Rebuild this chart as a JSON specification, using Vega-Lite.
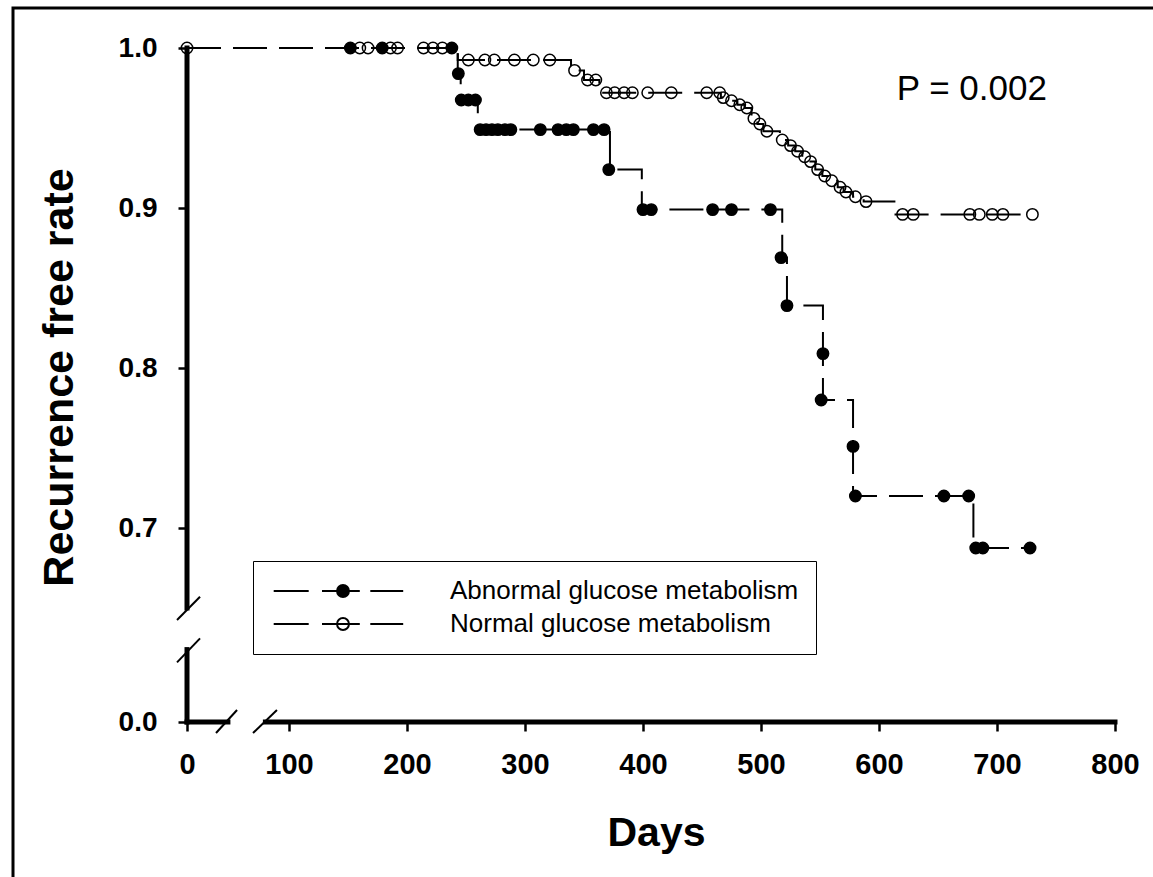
{
  "$schema": "https://vega.github.io/schema/vega-lite/v6.json",
  "width": 1146,
  "height": 875,
  "autosize": {"type": "none"},
  "padding": {"left": 13, "top": 8, "right": -6, "bottom": -6},
  "config": {
    "view": {"stroke": "black", "strokeWidth": 3},
    "font": "Liberation Sans",
    "axis": {
      "domain": false,
      "grid": false,
      "tickColor": "black",
      "tickWidth": 2.5,
      "tickSize": 9,
      "labelFont": "Liberation Sans",
      "labelFontWeight": "bold",
      "labelFontSize": 28,
      "labelColor": "black",
      "titleFont": "Liberation Sans",
      "titleFontWeight": "bold",
      "titleFontSize": 41,
      "titleColor": "black"
    }
  },
  "datasets": {
    "steps": [
      {"group": "Abnormal glucose metabolism", "day": 0, "rate": 1.0},
      {"group": "Abnormal glucose metabolism", "day": 243, "rate": 0.984},
      {"group": "Abnormal glucose metabolism", "day": 245.5, "rate": 0.9675},
      {"group": "Abnormal glucose metabolism", "day": 260, "rate": 0.949},
      {"group": "Abnormal glucose metabolism", "day": 372, "rate": 0.924},
      {"group": "Abnormal glucose metabolism", "day": 399, "rate": 0.899},
      {"group": "Abnormal glucose metabolism", "day": 518, "rate": 0.869},
      {"group": "Abnormal glucose metabolism", "day": 522, "rate": 0.839},
      {"group": "Abnormal glucose metabolism", "day": 552.5, "rate": 0.78},
      {"group": "Abnormal glucose metabolism", "day": 578, "rate": 0.72},
      {"group": "Abnormal glucose metabolism", "day": 680, "rate": 0.6875},
      {"group": "Abnormal glucose metabolism", "day": 728, "rate": 0.6875},
      {"group": "Normal glucose metabolism", "day": 0, "rate": 1.0},
      {"group": "Normal glucose metabolism", "day": 243, "rate": 0.9925},
      {"group": "Normal glucose metabolism", "day": 339, "rate": 0.986},
      {"group": "Normal glucose metabolism", "day": 350, "rate": 0.98},
      {"group": "Normal glucose metabolism", "day": 363, "rate": 0.972},
      {"group": "Normal glucose metabolism", "day": 466, "rate": 0.969},
      {"group": "Normal glucose metabolism", "day": 473, "rate": 0.967},
      {"group": "Normal glucose metabolism", "day": 480, "rate": 0.9645},
      {"group": "Normal glucose metabolism", "day": 486, "rate": 0.9625},
      {"group": "Normal glucose metabolism", "day": 492, "rate": 0.956},
      {"group": "Normal glucose metabolism", "day": 497, "rate": 0.9525},
      {"group": "Normal glucose metabolism", "day": 502, "rate": 0.948},
      {"group": "Normal glucose metabolism", "day": 516, "rate": 0.9425},
      {"group": "Normal glucose metabolism", "day": 523, "rate": 0.939},
      {"group": "Normal glucose metabolism", "day": 529, "rate": 0.9355},
      {"group": "Normal glucose metabolism", "day": 535, "rate": 0.932},
      {"group": "Normal glucose metabolism", "day": 540, "rate": 0.929},
      {"group": "Normal glucose metabolism", "day": 546, "rate": 0.924},
      {"group": "Normal glucose metabolism", "day": 552, "rate": 0.92},
      {"group": "Normal glucose metabolism", "day": 558, "rate": 0.917},
      {"group": "Normal glucose metabolism", "day": 565, "rate": 0.913},
      {"group": "Normal glucose metabolism", "day": 570, "rate": 0.91},
      {"group": "Normal glucose metabolism", "day": 578, "rate": 0.907},
      {"group": "Normal glucose metabolism", "day": 587, "rate": 0.904},
      {"group": "Normal glucose metabolism", "day": 614, "rate": 0.896},
      {"group": "Normal glucose metabolism", "day": 730, "rate": 0.896}
    ],
    "censor": [
      {"group": "Abnormal glucose metabolism", "day": 152, "rate": 1.0},
      {"group": "Abnormal glucose metabolism", "day": 179, "rate": 1.0},
      {"group": "Abnormal glucose metabolism", "day": 238, "rate": 1.0},
      {"group": "Abnormal glucose metabolism", "day": 243.5, "rate": 0.984},
      {"group": "Abnormal glucose metabolism", "day": 246, "rate": 0.9675},
      {"group": "Abnormal glucose metabolism", "day": 252, "rate": 0.9675},
      {"group": "Abnormal glucose metabolism", "day": 258, "rate": 0.9675},
      {"group": "Abnormal glucose metabolism", "day": 262, "rate": 0.949},
      {"group": "Abnormal glucose metabolism", "day": 267, "rate": 0.949},
      {"group": "Abnormal glucose metabolism", "day": 272, "rate": 0.949},
      {"group": "Abnormal glucose metabolism", "day": 277, "rate": 0.949},
      {"group": "Abnormal glucose metabolism", "day": 283, "rate": 0.949},
      {"group": "Abnormal glucose metabolism", "day": 288, "rate": 0.949},
      {"group": "Abnormal glucose metabolism", "day": 313, "rate": 0.949},
      {"group": "Abnormal glucose metabolism", "day": 328, "rate": 0.949},
      {"group": "Abnormal glucose metabolism", "day": 335, "rate": 0.949},
      {"group": "Abnormal glucose metabolism", "day": 341, "rate": 0.949},
      {"group": "Abnormal glucose metabolism", "day": 358, "rate": 0.949},
      {"group": "Abnormal glucose metabolism", "day": 367, "rate": 0.949},
      {"group": "Abnormal glucose metabolism", "day": 371, "rate": 0.924},
      {"group": "Abnormal glucose metabolism", "day": 400, "rate": 0.899},
      {"group": "Abnormal glucose metabolism", "day": 407, "rate": 0.899},
      {"group": "Abnormal glucose metabolism", "day": 459, "rate": 0.899},
      {"group": "Abnormal glucose metabolism", "day": 475, "rate": 0.899},
      {"group": "Abnormal glucose metabolism", "day": 508, "rate": 0.899},
      {"group": "Abnormal glucose metabolism", "day": 517, "rate": 0.869},
      {"group": "Abnormal glucose metabolism", "day": 522, "rate": 0.839},
      {"group": "Abnormal glucose metabolism", "day": 552.5, "rate": 0.809},
      {"group": "Abnormal glucose metabolism", "day": 551, "rate": 0.78},
      {"group": "Abnormal glucose metabolism", "day": 578, "rate": 0.751},
      {"group": "Abnormal glucose metabolism", "day": 580, "rate": 0.72},
      {"group": "Abnormal glucose metabolism", "day": 655, "rate": 0.72},
      {"group": "Abnormal glucose metabolism", "day": 676, "rate": 0.72},
      {"group": "Abnormal glucose metabolism", "day": 682, "rate": 0.6875},
      {"group": "Abnormal glucose metabolism", "day": 688, "rate": 0.6875},
      {"group": "Abnormal glucose metabolism", "day": 728, "rate": 0.6875},
      {"group": "Normal glucose metabolism", "day": 0, "rate": 1.0},
      {"group": "Normal glucose metabolism", "day": 160, "rate": 1.0},
      {"group": "Normal glucose metabolism", "day": 167, "rate": 1.0},
      {"group": "Normal glucose metabolism", "day": 186, "rate": 1.0},
      {"group": "Normal glucose metabolism", "day": 192, "rate": 1.0},
      {"group": "Normal glucose metabolism", "day": 214, "rate": 1.0},
      {"group": "Normal glucose metabolism", "day": 222, "rate": 1.0},
      {"group": "Normal glucose metabolism", "day": 230, "rate": 1.0},
      {"group": "Normal glucose metabolism", "day": 252, "rate": 0.9925},
      {"group": "Normal glucose metabolism", "day": 266, "rate": 0.9925},
      {"group": "Normal glucose metabolism", "day": 274, "rate": 0.9925},
      {"group": "Normal glucose metabolism", "day": 291, "rate": 0.9925},
      {"group": "Normal glucose metabolism", "day": 307, "rate": 0.9925},
      {"group": "Normal glucose metabolism", "day": 321, "rate": 0.9925},
      {"group": "Normal glucose metabolism", "day": 342, "rate": 0.986},
      {"group": "Normal glucose metabolism", "day": 353, "rate": 0.98},
      {"group": "Normal glucose metabolism", "day": 360, "rate": 0.98},
      {"group": "Normal glucose metabolism", "day": 369, "rate": 0.972},
      {"group": "Normal glucose metabolism", "day": 376, "rate": 0.972},
      {"group": "Normal glucose metabolism", "day": 384, "rate": 0.972},
      {"group": "Normal glucose metabolism", "day": 391, "rate": 0.972},
      {"group": "Normal glucose metabolism", "day": 404, "rate": 0.972},
      {"group": "Normal glucose metabolism", "day": 424, "rate": 0.972},
      {"group": "Normal glucose metabolism", "day": 454, "rate": 0.972},
      {"group": "Normal glucose metabolism", "day": 465, "rate": 0.972},
      {"group": "Normal glucose metabolism", "day": 468, "rate": 0.969},
      {"group": "Normal glucose metabolism", "day": 475, "rate": 0.967},
      {"group": "Normal glucose metabolism", "day": 482, "rate": 0.9645},
      {"group": "Normal glucose metabolism", "day": 488, "rate": 0.9625},
      {"group": "Normal glucose metabolism", "day": 494, "rate": 0.956},
      {"group": "Normal glucose metabolism", "day": 499, "rate": 0.9525},
      {"group": "Normal glucose metabolism", "day": 505, "rate": 0.948},
      {"group": "Normal glucose metabolism", "day": 518, "rate": 0.9425},
      {"group": "Normal glucose metabolism", "day": 525, "rate": 0.939},
      {"group": "Normal glucose metabolism", "day": 531, "rate": 0.9355},
      {"group": "Normal glucose metabolism", "day": 537, "rate": 0.932},
      {"group": "Normal glucose metabolism", "day": 542, "rate": 0.929},
      {"group": "Normal glucose metabolism", "day": 548, "rate": 0.924},
      {"group": "Normal glucose metabolism", "day": 554, "rate": 0.92},
      {"group": "Normal glucose metabolism", "day": 560, "rate": 0.917},
      {"group": "Normal glucose metabolism", "day": 567, "rate": 0.913},
      {"group": "Normal glucose metabolism", "day": 572, "rate": 0.91},
      {"group": "Normal glucose metabolism", "day": 580, "rate": 0.907},
      {"group": "Normal glucose metabolism", "day": 589, "rate": 0.904},
      {"group": "Normal glucose metabolism", "day": 620, "rate": 0.896},
      {"group": "Normal glucose metabolism", "day": 629, "rate": 0.896},
      {"group": "Normal glucose metabolism", "day": 677, "rate": 0.896},
      {"group": "Normal glucose metabolism", "day": 685, "rate": 0.896},
      {"group": "Normal glucose metabolism", "day": 696, "rate": 0.896},
      {"group": "Normal glucose metabolism", "day": 705, "rate": 0.896},
      {"group": "Normal glucose metabolism", "day": 730, "rate": 0.896}
    ]
  },
  "layer": [
    {
      "data": {"name": "steps"},
      "mark": {"type": "line", "interpolate": "step-after", "stroke": "black", "strokeWidth": 2, "strokeDash": [34, 12]},
      "encoding": {
        "x": {
          "field": "day", "type": "quantitative", "title": "Days",
          "scale": {"domain": [0, 70, 800], "range": [174, 240.6, 1102], "nice": false, "zero": false},
          "axis": {
            "values": [0, 100, 200, 300, 400, 500, 600, 700, 800],
            "format": "d", "offset": -161, "labelPadding": 19, "labelFontSize": 29,
            "labelFlush": false, "labelOverlap": false,
            "titleX": 643, "titleY": 123, "titleBaseline": "alphabetic", "titleAlign": "center"
          }
        },
        "y": {
          "field": "rate", "type": "quantitative", "title": "Recurrence free rate",
          "scale": {"domain": [0, 0.6, 1.0], "range": [714, 680, 40], "nice": false, "zero": false},
          "axis": {
            "values": [0, 0.7, 0.8, 0.9, 1.0],
            "format": ".1f", "offset": -174, "labelPadding": 21,
            "labelFlush": false, "labelOverlap": false, "titleFontSize": 43,
            "titleX": -115, "titleY": 369, "titleAngle": 270, "titleBaseline": "alphabetic", "titleAlign": "center"
          }
        },
        "detail": {"field": "group"}
      }
    },
    {
      "data": {"name": "censor"},
      "mark": {"type": "point", "filled": true, "stroke": "black", "strokeWidth": 1.5, "size": 130, "opacity": 1},
      "encoding": {
        "x": {"field": "day", "type": "quantitative", "title": "Days"},
        "y": {"field": "rate", "type": "quantitative", "title": "Recurrence free rate"},
        "fill": {
          "field": "group", "type": "nominal",
          "scale": {"domain": ["Abnormal glucose metabolism", "Normal glucose metabolism"], "range": ["black", "transparent"]},
          "legend": {
            "orient": "none", "legendX": 240, "legendY": 553, "title": null,
            "padding": 17, "strokeColor": "black",
            "symbolType": "M-9.9,0H-4.9M-3,0H2.4M3.9,0H8.6M-0.85,0A0.85,0.85,0,1,1,0.85,0A0.85,0.85,0,1,1,-0.85,0Z",
            "symbolSize": 196, "symbolStrokeColor": "black", "symbolStrokeWidth": 2,
            "symbolOffset": 60, "labelOffset": 94, "rowPadding": 7,
            "labelFont": "Liberation Sans", "labelFontSize": 26, "labelColor": "black", "labelLimit": 800,
            "encode": {
              "legend": {"update": {"strokeWidth": {"value": 1.5}}},
              "symbols": {
                "update": {
                  "shape": {"value": "M-9.9,0H-4.9M-3,0H2.4M3.9,0H8.6M-0.85,0A0.85,0.85,0,1,1,0.85,0A0.85,0.85,0,1,1,-0.85,0Z"},
                  "size": {"value": 196},
                  "stroke": {"value": "black"},
                  "strokeWidth": {"value": 2}
                }
              }
            }
          }
        }
      }
    },
    {
      "data": {"values": [{}]},
      "mark": {"type": "rule", "color": "black", "strokeWidth": 5, "strokeCap": "square"},
      "encoding": {
        "x": {"datum": 0, "type": "quantitative", "title": "Days"},
        "y": {"datum": 0.65, "type": "quantitative", "title": "Recurrence free rate"},
        "y2": {"datum": 1.0}
      }
    },
    {
      "data": {"values": [{}]},
      "mark": {"type": "rule", "color": "black", "strokeWidth": 5, "strokeCap": "square"},
      "encoding": {
        "x": {"datum": 0, "type": "quantitative", "title": "Days"},
        "y": {"datum": 0, "type": "quantitative", "title": "Recurrence free rate"},
        "y2": {"datum": 0.624}
      }
    },
    {
      "data": {"values": [{}]},
      "mark": {"type": "rule", "color": "black", "strokeWidth": 5, "strokeCap": "square"},
      "encoding": {
        "x": {"datum": 0, "type": "quantitative", "title": "Days"},
        "x2": {"datum": 43},
        "y": {"datum": 0, "type": "quantitative", "title": "Recurrence free rate"}
      }
    },
    {
      "data": {"values": [{}]},
      "mark": {"type": "rule", "color": "black", "strokeWidth": 5, "strokeCap": "square"},
      "encoding": {
        "x": {"datum": 80, "type": "quantitative", "title": "Days"},
        "x2": {"datum": 800},
        "y": {"datum": 0, "type": "quantitative", "title": "Recurrence free rate"}
      }
    },
    {
      "data": {"values": [{}]},
      "mark": {"type": "rule", "color": "black", "strokeWidth": 2},
      "encoding": {
        "x": {"datum": -10.5, "type": "quantitative", "title": "Days"},
        "x2": {"datum": 13.7},
        "y": {"datum": 0.6425, "type": "quantitative", "title": "Recurrence free rate"},
        "y2": {"datum": 0.657}
      }
    },
    {
      "data": {"values": [{}]},
      "mark": {"type": "rule", "color": "black", "strokeWidth": 2},
      "encoding": {
        "x": {"datum": -10.5, "type": "quantitative", "title": "Days"},
        "x2": {"datum": 13.7},
        "y": {"datum": 0.616, "type": "quantitative", "title": "Recurrence free rate"},
        "y2": {"datum": 0.631}
      }
    },
    {
      "data": {"values": [{}]},
      "mark": {"type": "rule", "color": "black", "strokeWidth": 2},
      "encoding": {
        "x": {"datum": 30.5, "type": "quantitative", "title": "Days"},
        "x2": {"datum": 52.6},
        "y": {"datum": -0.194, "type": "quantitative", "title": "Recurrence free rate"},
        "y2": {"datum": 0.212}
      }
    },
    {
      "data": {"values": [{}]},
      "mark": {"type": "rule", "color": "black", "strokeWidth": 2},
      "encoding": {
        "x": {"datum": 69.4, "type": "quantitative", "title": "Days"},
        "x2": {"datum": 89.8},
        "y": {"datum": -0.194, "type": "quantitative", "title": "Recurrence free rate"},
        "y2": {"datum": 0.212}
      }
    },
    {
      "data": {"values": [{}]},
      "mark": {"type": "text", "text": "P = 0.002", "align": "left", "baseline": "alphabetic", "fontSize": 35, "font": "Liberation Sans", "color": "black"},
      "encoding": {
        "x": {"datum": 615, "type": "quantitative", "title": "Days"},
        "y": {"datum": 0.9675, "type": "quantitative", "title": "Recurrence free rate"}
      }
    }
  ]
}
